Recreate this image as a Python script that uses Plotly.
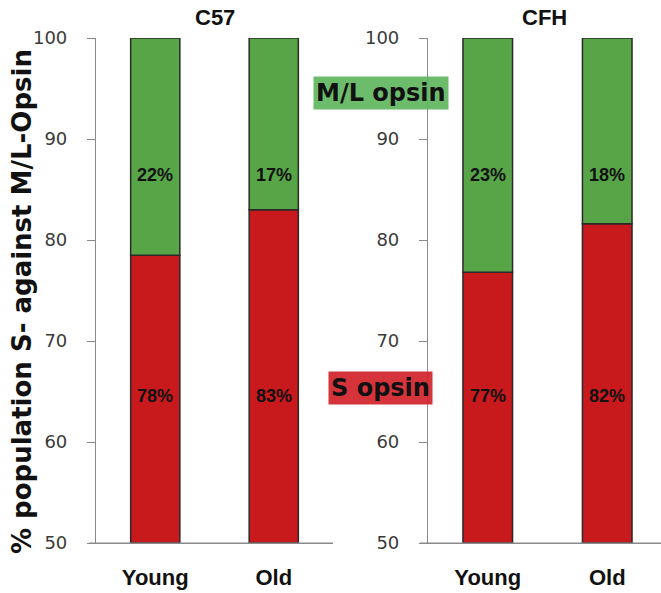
import plotly.graph_objects as go

groups = ["C57", "CFH"]
ages = ["Young", "Old"]
s_opsin = {"C57": [78.5, 83.0], "CFH": [76.8, 81.6]}
ml_opsin = {"C57": [21.5, 17.0], "CFH": [23.2, 18.4]}
s_labels = {"C57": ["78%", "83%"], "CFH": ["77%", "82%"]}
ml_labels = {"C57": ["22%", "17%"], "CFH": ["23%", "18%"]}
y_ticks = [50, 60, 70, 80, 90, 100]

RED = "#c8191d"
GREEN = "#58a548"
EDGE = "#2a2a2a"
AX = "#8a8a8a"
W, H = 661, 593
ML, MR, MT, MB = 96, 0, 38, 50
PW, PH = W - ML - MR, H - MT - MB


def px_x(p):
    return (p - ML) / PW


def px_y(p):
    return (H - MB - p) / PH


fig = go.Figure()
for i, g in enumerate(groups):
    xa = "x" if i == 0 else "x2"
    ya = "y" if i == 0 else "y2"
    fig.add_trace(go.Bar(x=ages, y=[v - 50 for v in s_opsin[g]], base=50, marker_color=RED,
                         marker_line=dict(color=EDGE, width=1.5), width=0.415,
                         xaxis=xa, yaxis=ya, showlegend=False, hoverinfo="skip"))
    fig.add_trace(go.Bar(x=ages, y=ml_opsin[g], base=s_opsin[g], marker_color=GREEN,
                         marker_line=dict(color=EDGE, width=1.5), width=0.415,
                         xaxis=xa, yaxis=ya, showlegend=False, hoverinfo="skip"))
    for j, a in enumerate(ages):
        fig.add_annotation(x=a, y=86.4, xref=xa, yref=ya, text="<b>%s</b>" % ml_labels[g][j],
                           showarrow=False, xanchor="center", yanchor="middle",
                           font=dict(family="Liberation Sans", size=18, color="#111"))
        fig.add_annotation(x=a, y=64.6, xref=xa, yref=ya, text="<b>%s</b>" % s_labels[g][j],
                           showarrow=False, xanchor="center", yanchor="middle",
                           font=dict(family="Liberation Sans", size=18, color="#111"))
    fig.add_annotation(x=0.5, xref=("x domain" if i == 0 else "x2 domain"),
                       y=px_y(18), yref="paper", xanchor="center", yanchor="middle",
                       text="<b>%s</b>" % g, showarrow=False,
                       font=dict(family="Liberation Sans", size=22, color="#111"))

axis_common = dict(showline=True, linecolor=AX, linewidth=1.2, showgrid=False, zeroline=False)
yaxis_common = dict(axis_common, range=[50, 100], tickvals=y_ticks, ticks="outside", ticklen=8,
                    tickcolor=AX, tickwidth=1.2,
                    tickfont=dict(family="DejaVu Sans", size=18, color="#3a3a3a"),
                    ticklabelstandoff=16)
xaxis_common = dict(axis_common, ticks="", tickfont=dict(family="Liberation Sans", size=22, color="#111"),
                    tickvals=ages, ticktext=["<b>%s</b>" % a for a in ages], ticklabelstandoff=14)

fig.update_layout(
    width=W, height=H,
    margin=dict(l=ML, r=MR, t=MT, b=MB),
    paper_bgcolor="white", plot_bgcolor="white",
    barmode="overlay",
    xaxis=dict(xaxis_common, domain=[0, px_x(333)], range=[-0.5, 1.5]),
    xaxis2=dict(xaxis_common, domain=[px_x(428), 1], range=[-0.5, 1.45]),
    yaxis=dict(yaxis_common, anchor="x"),
    yaxis2=dict(yaxis_common, anchor="x2"),
)

# x-axis baselines extending slightly left of the y-axes, as in the reference
for x0, x1 in [(89, 333), (420, 661)]:
    fig.add_shape(type="line", xref="paper", yref="paper", x0=px_x(x0), x1=px_x(x1), y0=0, y1=0,
                  line=dict(color=AX, width=1.2), layer="above")

fig.add_annotation(x=px_x(22), xref="paper", y=px_y(302), yref="paper", textangle=-90,
                   xanchor="center", yanchor="middle",
                   text="<b>% population S- against M/L-Opsin</b>", showarrow=False,
                   font=dict(family="DejaVu Sans", size=26, color="#111"))
fig.add_annotation(x=px_x(381), xref="paper", y=px_y(93), yref="paper",
                   xanchor="center", yanchor="middle",
                   text="<b>M/L opsin</b>", showarrow=False, bgcolor="rgba(95,182,95,0.92)",
                   borderpad=2, font=dict(family="DejaVu Sans", size=24, color="#111"))
fig.add_annotation(x=px_x(380), xref="paper", y=px_y(388), yref="paper",
                   xanchor="center", yanchor="middle",
                   text="<b>S opsin</b>", showarrow=False, bgcolor="rgba(210,35,42,0.92)",
                   borderpad=2, font=dict(family="DejaVu Sans", size=24, color="#111"))

fig.write_html("out.html", config={"displayModeBar": False},
               post_script="document.body.style.margin='0';")
